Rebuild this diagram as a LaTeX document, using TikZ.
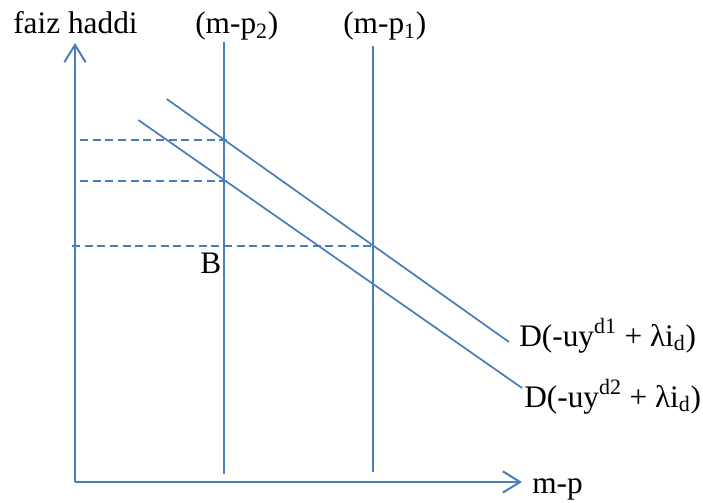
\documentclass[tikz,border=0pt]{standalone}
\usepackage{fontspec}
\setmainfont{Liberation Serif}
\usetikzlibrary{arrows.meta}
\definecolor{lineblue}{HTML}{4A7EBB}
\tikzset{
  axis/.style={draw=lineblue, line width=1.8pt},
  curve/.style={draw=lineblue, line width=1.3pt},
  guide/.style={draw=lineblue, line width=1.3pt, dash pattern=on 6pt off 3.5pt},
  lbl/.style={font=\fontsize{23.5pt}{28pt}\selectfont, inner sep=0pt, anchor=base west, text=black},
  barb/.style={-{Straight Barb[length=13pt,width=16pt,line width=1.5pt]}}
}
\begin{document}
\begin{tikzpicture}[x=0.75pt,y=-0.75pt]
\useasboundingbox (0,0) rectangle (703,503);
% axes
\coordinate (O) at (75,482);
\coordinate (ytip) at (75,43);
\coordinate (xtip) at (522,482);
\draw[axis,barb] (O) -- (ytip);
\draw[axis,barb] (O) -- (xtip);
% vertical lines
\coordinate (v2top) at (224,42);
\coordinate (v2bot) at (224,474);
\coordinate (v1top) at (373,46);
\coordinate (v1bot) at (373,472);
\draw[curve] (v2top) -- (v2bot);
\draw[curve] (v1top) -- (v1bot);
% demand lines
\coordinate (d1s) at (166.7,99);
\coordinate (d1e) at (509,342);
\coordinate (d2s) at (138.3,120);
\coordinate (d2e) at (522,388);
\draw[curve] (d1s) -- (d1e);
\draw[curve] (d2s) -- (d2e);
% dashed guides
\coordinate (g1a) at (80,140);
\coordinate (g1b) at (227,140);
\coordinate (g2a) at (80,181);
\coordinate (g2b) at (227,181);
\coordinate (g3a) at (72,246);
\coordinate (g3b) at (374,246);
\draw[guide] (g1a) -- (g1b);
\draw[guide] (g2a) -- (g2b);
\draw[guide] (g3a) -- (g3b);
% labels
\node[lbl] (ylab) at (13,33.5) {faiz haddi};
\node[lbl] (mp2) at (195,33.5) {(m-p\textsubscript{2})};
\node[lbl] (mp1) at (343,33.5) {(m-p\textsubscript{1})};
\node[lbl] (xlab) at (532,493) {m-p};
\node[lbl] (B) at (200,273) {B};
\node[lbl] (D1) at (519,346) {D(-uy\textsuperscript{d1} + λi\textsubscript{d})};
\node[lbl] (D2) at (524,407) {D(-uy\textsuperscript{d2} + λi\textsubscript{d})};
\end{tikzpicture}
\end{document}
